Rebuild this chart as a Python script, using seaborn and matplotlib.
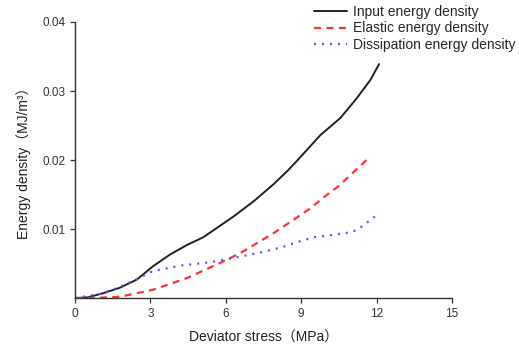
import matplotlib
matplotlib.use("Agg")
import matplotlib.pyplot as plt
import seaborn as sns
import pandas as pd

input_x = [0, 0.5, 1.12, 1.79, 2.47, 3.1, 3.78, 4.46, 5.1, 5.5, 6.3, 7.1, 7.9, 8.5, 8.96, 9.76, 10.56, 11.2, 11.75, 12.1]
input_y = [0, 0.0001, 0.0007, 0.0015, 0.0027, 0.0046, 0.0063, 0.0077, 0.0088, 0.0098, 0.0118, 0.0140, 0.0165, 0.0186, 0.0204, 0.0236, 0.0261, 0.0289, 0.0316, 0.0339]

elastic_x = [0, 1.0, 1.8, 3.1, 4.46, 5.78, 6.57, 7.9, 8.84, 9.36, 9.9, 10.48, 11.04, 11.65]
elastic_y = [0, 0.00005, 0.0002, 0.0012, 0.0029, 0.0051, 0.0065, 0.0094, 0.0117, 0.0130, 0.0146, 0.0162, 0.0181, 0.0202]

dissip_x = [0, 1.0, 1.5, 2.2, 3.1, 4.2, 5.4, 6.3, 7.37, 8.17, 8.84, 9.5, 10.16, 10.76, 11.1, 11.43, 11.75, 12.07]
dissip_y = [0, 0.0006, 0.0012, 0.0023, 0.0039, 0.0047, 0.0052, 0.0058, 0.0066, 0.0073, 0.0081, 0.0088, 0.0091, 0.0094, 0.0097, 0.0104, 0.0113, 0.0122]

x_ticks = [0, 3, 6, 9, 12, 15]
y_ticks = [0.01, 0.02, 0.03, 0.04]
y_tick_labels = ["0.01", "0.02", "0.03", "0.04"]

sns.set_style("ticks")
plt.rcParams['font.family'] = ['Liberation Sans', 'Noto Sans CJK SC', 'DejaVu Sans']

fig = plt.figure(figsize=(5.19, 3.49), dpi=100)
ax = fig.add_axes([0.1445, 0.146, 0.7265, 0.791])

df_in = pd.DataFrame({"x": input_x, "y": input_y})
df_el = pd.DataFrame({"x": elastic_x, "y": elastic_y})
df_di = pd.DataFrame({"x": dissip_x, "y": dissip_y})

sns.lineplot(data=df_in, x="x", y="y", ax=ax, color="#222222", lw=1.4,
             label="Input energy density", sort=False)
sns.lineplot(data=df_el, x="x", y="y", ax=ax, color="#ff3333", lw=1.6,
             linestyle=(0, (3.2, 2.4)), label="Elastic energy density", sort=False)
sns.lineplot(data=df_di, x="x", y="y", ax=ax, color="#5555ff", lw=1.6,
             linestyle=(0, (0.9, 2.7)), label="Dissipation energy density", sort=False)

ax.set_xlim(0, 15)
ax.set_ylim(0, 0.04)
ax.set_xticks(x_ticks)
ax.set_yticks(y_ticks)
ax.set_yticklabels(y_tick_labels)
ax.tick_params(axis='both', labelsize=8.5, length=3.5, width=0.9, colors='#333333', direction='out')
for s in ['top', 'right']:
    ax.spines[s].set_visible(False)
for s in ['left', 'bottom']:
    ax.spines[s].set_linewidth(1.0)
    ax.spines[s].set_color('#333333')

ax.set_xlabel("Deviator stress（MPa）", fontsize=10, color='#222222', labelpad=8)
ax.set_ylabel("Energy density（MJ/m³）", fontsize=10, color='#222222', labelpad=8)

leg = ax.legend(loc='upper right', bbox_to_anchor=(1.183, 1.083), frameon=False,
                fontsize=10, handlelength=2.4, handletextpad=0.4, labelspacing=0.2,
                borderaxespad=0)

fig.savefig("out.png", dpi=100)
